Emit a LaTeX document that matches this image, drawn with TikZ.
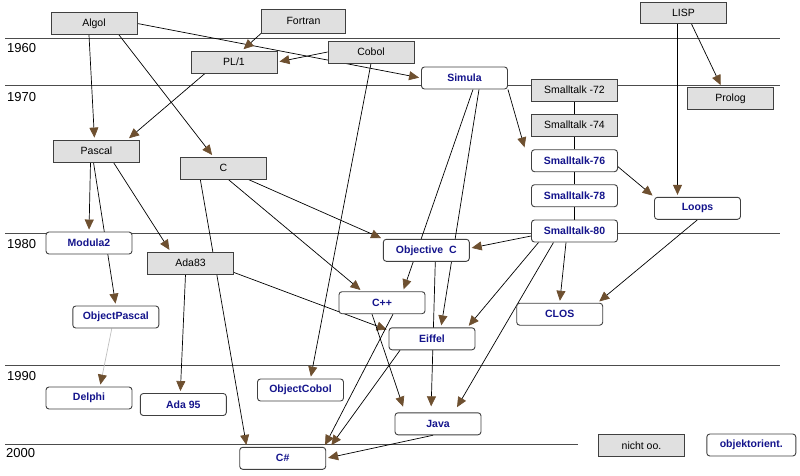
\documentclass[tikz,border=0pt]{standalone}
\usepackage{fontspec}
\setmainfont{Liberation Sans}
\usetikzlibrary{arrows.meta, backgrounds}
\definecolor{tipbrown}{RGB}{110,80,48}
\definecolor{oonavy}{RGB}{20,20,140}
\definecolor{boxgray}{RGB}{224,224,224}

\begin{document}
\begin{tikzpicture}[x=1pt, y=-1pt,
		oldlang/.style={draw=black!75, line width=0.9pt, fill=boxgray, minimum width=86pt, minimum height=22pt, inner sep=0pt, font=\fontsize{10.5}{12}\selectfont},
		oolang/.style={draw=black!75, line width=0.9pt, fill=white, rounded corners=3pt, minimum width=86pt, minimum height=22pt, inner sep=0pt, text=oonavy, font=\fontsize{10.5}{12}\selectfont\bfseries},
		link/.style={->, line width=0.7pt, shorten >=2pt},
		era/.style={line width=0.9pt, black!70},
		year/.style={anchor=west, inner sep=0pt, font=\fontsize{13}{15}\selectfont},
		>={Triangle[length=10pt, width=9pt, color=tipbrown]}]

	\useasboundingbox (0,0) rectangle (800,475);

	\node[year] (y1960) at (7,48.5) {1960};
	\node[year] (y1970) at (7,97) {1970};
	\node[year] (y1980) at (7,244) {1980};
	\node[year] (y1990) at (7,376) {1990};
	\node[year] (y2000) at (6,453) {2000};

	% languages without objects
	\node[oldlang] (algol) at (94,23.5) {Algol};
	\node[oldlang, minimum width=84pt, minimum height=24pt] (fortran) at (303.5,21) {Fortran};
	\node[oldlang] (pl1) at (234,62) {PL/1};
	\node[oldlang] (cobol) at (371,52) {Cobol};
	\node[oldlang, minimum height=21pt] (lisp) at (683.5,13) {LISP};
	\node[oldlang] (prolog) at (730.5,98.3) {Prolog};
	\node[oldlang] (st72) at (574.5,90) {Smalltalk -72};
	\node[oldlang] (st74) at (574.5,125) {Smalltalk -74};
	\node[oldlang] (pascal) at (96.5,151) {Pascal};
	\node[oldlang] (c) at (223.3,168) {C};
	\node[oldlang] (ada83) at (190.5,263) {Ada83};
	\node[oldlang] (nichtoo) at (641.5,445.3) {nicht oo.};

	% object oriented ones
	\node[oolang] (simula) at (464.5,78) {Simula};
	\node[oolang] (st76) at (574.5,160.7) {Smalltalk-76};
	\node[oolang] (st78) at (574.5,195.7) {Smalltalk-78};
	\node[oolang] (st80) at (574.5,231) {Smalltalk-80};
	\node[oolang] (loops) at (697.5,208.3) {Loops};
	\node[oolang] (modula) at (89,243) {Modula2};
	\node[oolang] (objpascal) at (115.8,317) {ObjectPascal};
	\node[oolang] (delphi) at (89,398) {Delphi};
	\node[oolang] (ada95) at (183.3,404.5) {Ada 95};
	\node[oolang] (objcobol) at (300.5,390) {ObjectCobol};
	\node[oolang] (csharp) at (282.7,458.3) {C\#};
	\node[oolang] (objc) at (426.3,250.3) {Objective\ \ C};
	\node[oolang] (cpp) at (382,302.7) {C++};
	\node[oolang] (eiffel) at (432,338.8) {Eiffel};
	\node[oolang] (java) at (438,423.8) {Java};
	\node[oolang] (clos) at (559.7,314.2) {CLOS};
	\node[oolang, minimum width=89pt] (oolegend) at (751.3,445) {objektorient.};

	\begin{scope}[on background layer]
		\draw[era] (5,38) -- (780,38);
		\draw[era] (5,85) -- (780,85);
		\draw[era] (5,233) -- (780,233);
		\draw[era] (5,365) -- (780,365);
		\draw[era] (5,444) -- (578,444);

		\draw[link] ([xshift=-5pt]algol.south) -- ([xshift=-2pt]pascal.north);
		\draw[link] ([xshift=25pt]algol.south) -- ([xshift=-10pt]c.north);
		\draw[link] (algol.east) -- (simula.west);
		\draw[link] (fortran.south west) -- ([xshift=8pt]pl1.north);
		\draw[link] (cobol.west) -- (pl1.east);
		\draw[link] ([xshift=-29pt]pl1.south) -- ([xshift=31pt]pascal.north);
		\draw[link] (cobol.south) -- ([xshift=10pt]objcobol.north);
		\draw[link] ([xshift=-6pt]lisp.south) -- ([xshift=-20pt]loops.north);
		\draw[link] ([xshift=8pt]lisp.south) -- ([xshift=-9pt]prolog.north);
		\draw[link] (simula.south east) -- ([xshift=-6pt]st76.north west);
		\draw[link] ([xshift=8.5pt]simula.south) -- ([xshift=21pt]cpp.north);
		\draw[link] ([xshift=14.5pt]simula.south) -- ([xshift=9pt]eiffel.north);
		\draw[line width=0.7pt] (st72) -- (st74) -- (st76) -- (st78) -- (st80);
		\draw[link] ([yshift=-6pt]st76.east) -- (loops.north west);
		\draw[link] ([yshift=-5pt]st80.west) -- ([yshift=2pt]objc.east);
		\draw[link] ([xshift=-36pt]st80.south) -- ([xshift=-8pt]eiffel.north east);
		\draw[link, shorten >=6pt] ([xshift=-21pt]st80.south) -- ([xshift=16pt]java.north);
		\draw[link] ([xshift=-8.5pt]st80.south) -- (clos.north);
		\draw[link] (loops.south) -- ([xshift=38pt]clos.north);
		\draw[link] ([xshift=-6pt]pascal.south) -- (modula.north);
		\draw[link] ([xshift=-3pt]pascal.south) -- (objpascal.north);
		\draw[link] ([xshift=17pt]pascal.south) -- ([xshift=-20pt]ada83.north);
		\draw[link, black!25] ([xshift=-4pt]objpascal.south) -- ([xshift=11pt]delphi.north);
		\draw[link] ([xshift=-5pt]ada83.south) -- ([xshift=-3pt]ada95.north);
		\draw[link] ([yshift=2pt]ada83.south east) -- ([yshift=-3pt]eiffel.north west);
		\draw[link] ([xshift=-23pt]c.south) -- ([xshift=-36pt]csharp.north);
		\draw[link] ([xshift=5pt]c.south) -- ([xshift=-20pt]cpp.north);
		\draw[link] ([xshift=25pt]c.south) -- (objc.north west);
		\draw[link, shorten >=6pt] ([xshift=9pt]objc.south) -- ([xshift=-7pt]java.north);
		\draw[link, shorten >=6pt] ([xshift=-10pt]cpp.south) -- ([xshift=-33pt]java.north);
		\draw[link] ([xshift=11pt]cpp.south) -- ([xshift=-2pt]csharp.north east);
		\draw[link] ([xshift=-32pt]eiffel.south) -- ([xshift=4pt]csharp.north east);
		\draw[link] ([xshift=-5pt]java.south) -- (csharp.east);
	\end{scope}
\end{tikzpicture}
\end{document}
